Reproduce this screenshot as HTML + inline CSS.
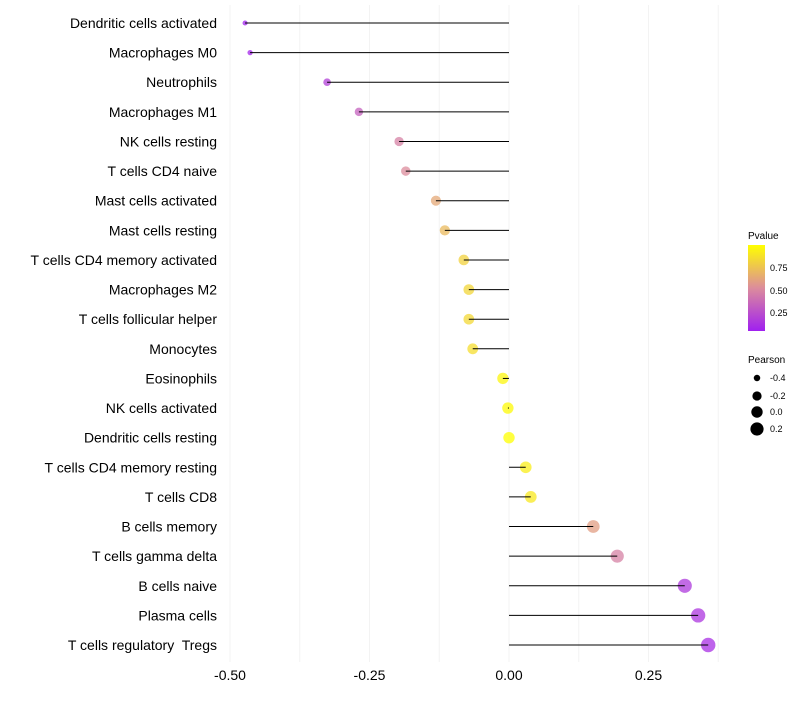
<!DOCTYPE html>
<html><head><meta charset="utf-8"><style>
body{margin:0;background:#fff;font-family:"Liberation Sans",sans-serif}
text{white-space:pre}
</style></head><body>
<svg id="c" width="800" height="700">
<defs><linearGradient id="g" x1="0" y1="1" x2="0" y2="0">
<stop offset="0" stop-color="#a020f0"/><stop offset="0.5" stop-color="#dc8c9c"/><stop offset="1" stop-color="#ffff00"/></linearGradient></defs>
</svg>
<script>
const cells=["Dendritic cells activated","Macrophages M0","Neutrophils","Macrophages M1","NK cells resting","T cells CD4 naive","Mast cells activated","Mast cells resting","T cells CD4 memory activated","Macrophages M2","T cells follicular helper","Monocytes","Eosinophils","NK cells activated","Dendritic cells resting","T cells CD4 memory resting","T cells CD8","B cells memory","T cells gamma delta","B cells naive","Plasma cells","T cells regulatory  Tregs"];
const pearson=[-0.473,-0.464,-0.326,-0.269,-0.197,-0.185,-0.131,-0.115,-0.081,-0.072,-0.072,-0.065,-0.011,-0.002,0.0,0.030,0.039,0.151,0.194,0.315,0.339,0.357];
const pvals=[0.02,0.03,0.15,0.3,0.45,0.5,0.62,0.7,0.8,0.82,0.83,0.85,0.96,0.98,1.0,0.92,0.9,0.58,0.45,0.12,0.1,0.07];
const xTicks=[-0.5,-0.25,0,0.25];
const xTickLabels=["-0.50","-0.25","0.00","0.25"];
const svg=document.getElementById('c');const NS="http://www.w3.org/2000/svg";
function mk(t,a,p){const e=document.createElementNS(NS,t);for(const k in a)e.setAttribute(k,a[k]);(p||svg).appendChild(e);return e;}
const X=v=>509+v*558;
const Y=i=>23+i*(622/21);
function lerp(a,b,t){return a.map((x,i)=>Math.round(x+(b[i]-x)*t));}
function col(p){const s=[[160,32,240],[220,140,156],[255,255,0]];const c=p<0.5?lerp(s[0],s[1],p*2):lerp(s[1],s[2],(p-0.5)*2);return `rgb(${c})`;}
const R=v=>Math.sqrt(5+(v+0.5)*55);
for(let v=-0.5;v<=0.376;v+=0.125){const g=mk('line',{x1:X(v),x2:X(v),y1:5,y2:662,stroke:'#f3f3f3','stroke-width':1});

}
xTicks.forEach((v,i)=>{const t=mk('text',{x:X(v),y:680,'text-anchor':'middle','font-size':14,fill:'#000'});t.textContent=xTickLabels[i];

});
cells.forEach((c,i)=>{const y=Y(i);
const t=mk('text',{x:217,y:y+5,'text-anchor':'end','font-size':14,fill:'#000'});t.textContent=c;


const d=mk('circle',{cx:X(pearson[i]),cy:y,r:R(pearson[i]),fill:col(pvals[i]),'fill-opacity':0.75});


const l=mk('line',{x1:X(0),x2:X(pearson[i]),y1:y,y2:y,stroke:'#000','stroke-width':1});

});
const lt=mk('text',{x:748,y:239,'font-size':10});lt.textContent="Pvalue";


const cb=mk('rect',{x:748,y:245,width:17,height:86,fill:'url(#g)'});


[[0.75,268],[0.5,291],[0.25,313]].forEach(([v,y])=>{const t=mk('text',{x:770,y:y+3,'font-size':9});t.textContent=v.toFixed(2);

});
const pt=mk('text',{x:748,y:363,'font-size':10});pt.textContent="Pearson";


[[-0.4,378],[-0.2,396],[0,412],[0.2,429]].forEach(([v,y])=>{const c=mk('circle',{cx:757,cy:y,r:R(v),fill:'#000'});


const t=mk('text',{x:770,y:y+3,'font-size':9});t.textContent=v.toFixed(1);

});
</script>
</body></html>
